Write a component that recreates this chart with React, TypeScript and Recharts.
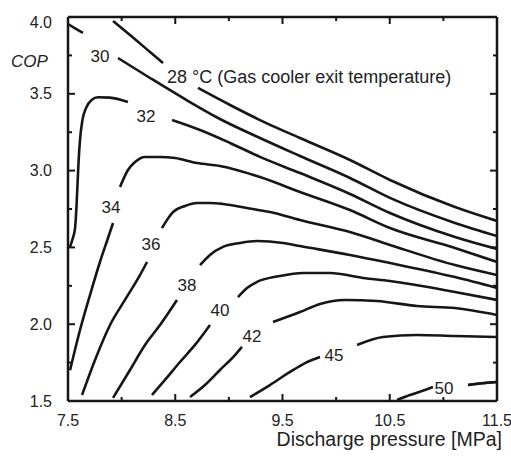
import React from "react";
import { LineChart, Line, XAxis, YAxis, ReferenceDot, Label } from "recharts";

type Pt = [number, number];

const xTicks = [7.5, 8, 8.5, 9, 9.5, 10, 10.5, 11, 11.5];
const xMajor = [7.5, 8.5, 9.5, 10.5, 11.5];
const yTicks = [1.5, 1.75, 2, 2.25, 2.5, 2.75, 3, 3.25, 3.5, 3.75, 4];
const yMajor = [1.5, 2, 2.5, 3, 3.5, 4];

// isotherms, each split where its label sits ([pressure MPa, COP])
const t28a: Pt[] = [[7.92, 3.974], [8.078, 3.883], [8.265, 3.772], [8.386, 3.701]];
const t28b: Pt[] = [[8.712, 3.538], [9.011, 3.427], [9.29, 3.329], [9.663, 3.212], [10.129, 3.069], [10.502, 2.939], [11.108, 2.763], [11.5, 2.672]];
const t30a: Pt[] = [[7.5, 3.954], [7.575, 3.922], [7.64, 3.896]];
const t30b: Pt[] = [[7.966, 3.733], [8.265, 3.603], [8.572, 3.473], [8.917, 3.336], [9.29, 3.212], [9.663, 3.095], [10.129, 2.952], [10.502, 2.822], [11.108, 2.659], [11.5, 2.574]];
const t32a: Pt[] = [[7.519, 2.503], [7.545, 2.56], [7.565, 2.62], [7.578, 2.75], [7.588, 2.9], [7.598, 3.05], [7.612, 3.2], [7.635, 3.33], [7.67, 3.41], [7.72, 3.46], [7.78, 3.478], [7.89, 3.475], [8.059, 3.447]];
const t32b: Pt[] = [[8.47, 3.329], [8.731, 3.264], [9.011, 3.18], [9.29, 3.089], [9.663, 2.984], [10.129, 2.848], [10.502, 2.724], [11.108, 2.568], [11.5, 2.49]];
const t34a: Pt[] = [[7.519, 1.7], [7.612, 1.962], [7.705, 2.19], [7.798, 2.405], [7.873, 2.561], [7.92, 2.659]];
const t34b: Pt[] = [[7.985, 2.893], [8.059, 3.004], [8.125, 3.056], [8.218, 3.089], [8.358, 3.089], [8.498, 3.082], [8.703, 3.049], [8.917, 3.03], [9.29, 2.958], [9.663, 2.861], [10.129, 2.743], [10.502, 2.626], [11.108, 2.496], [11.5, 2.405]];
const t36a: Pt[] = [[7.631, 1.539], [7.752, 1.767], [7.892, 1.995], [8.031, 2.158], [8.171, 2.32], [8.237, 2.405]];
const t36b: Pt[] = [[8.376, 2.626], [8.479, 2.73], [8.591, 2.77], [8.703, 2.789], [8.824, 2.789], [8.945, 2.783], [9.169, 2.757], [9.383, 2.73], [9.663, 2.678], [10.129, 2.6], [10.502, 2.516], [11.108, 2.385], [11.5, 2.32]];
const t38a: Pt[] = [[7.92, 1.52], [8.078, 1.702], [8.218, 1.865], [8.358, 1.995], [8.516, 2.158]];
const t38b: Pt[] = [[8.731, 2.385], [8.824, 2.451], [8.945, 2.503], [9.104, 2.529], [9.262, 2.542], [9.505, 2.529], [9.663, 2.509], [10.129, 2.451], [10.502, 2.398], [11.108, 2.307], [11.5, 2.236]];
const t40a: Pt[] = [[8.283, 1.539], [8.404, 1.637], [8.544, 1.754], [8.684, 1.865], [8.824, 1.995]];
const t40b: Pt[] = [[9.085, 2.177], [9.169, 2.236], [9.262, 2.275], [9.477, 2.314], [9.691, 2.333], [9.943, 2.333], [10.251, 2.301], [10.502, 2.281], [11.108, 2.21], [11.5, 2.158]];
const t42a: Pt[] = [[8.638, 1.526], [8.777, 1.604], [8.917, 1.702], [9.057, 1.799], [9.122, 1.852]];
const t42b: Pt[] = [[9.411, 2.014], [9.663, 2.079], [9.85, 2.132], [10.083, 2.158], [10.381, 2.151], [10.754, 2.118], [11.108, 2.105], [11.5, 2.06]];
const t45a: Pt[] = [[9.197, 1.526], [9.383, 1.604], [9.57, 1.689], [9.71, 1.747], [9.85, 1.786]];
const t45b: Pt[] = [[10.195, 1.865], [10.437, 1.917], [10.754, 1.93], [11.108, 1.923], [11.5, 1.917]];
const t50a: Pt[] = [[10.568, 1.507], [10.689, 1.539], [10.829, 1.572], [10.903, 1.591]];
const t50b: Pt[] = [[11.23, 1.604], [11.388, 1.617], [11.5, 1.624]];

const segments = [t28a, t28b, t30a, t30b, t32a, t32b, t34a, t34b, t36a, t36b, t38a, t38b, t40a, t40b, t42a, t42b, t45a, t45b, t50a, t50b];

const labelText = ["30", "32", "34", "36", "38", "40", "42", "45", "50"];
const labelAt: Pt[] = [[7.798, 3.746], [8.227, 3.355], [7.901, 2.763], [8.274, 2.522], [8.61, 2.255], [8.917, 2.092], [9.216, 1.923], [9.98, 1.8], [11.006, 1.585]];
const noteText = "28 °C (Gas cooler exit temperature)";
const noteAt: Pt = [8.423, 3.609];

const FONT = "'Liberation Sans', Arial, Helvetica, sans-serif";
const INK = "#161616";

function BottomTick(props: any) {
  const { x, y, payload } = props;
  const major = xMajor.includes(payload.value);
  return (
    <g>
      <line x1={x} x2={x} y1={y} y2={y - (major ? 7 : 4)} stroke={INK} strokeWidth={2} />
      {major && (
        <text x={x} y={y + 25} textAnchor="middle" fontSize={16} fill="#222" fontFamily={FONT}>
          {payload.value.toFixed(1)}
        </text>
      )}
    </g>
  );
}

function TopTick(props: any) {
  const { x, y, payload } = props;
  const major = xMajor.includes(payload.value);
  return <line x1={x} x2={x} y1={y} y2={y + (major ? 7 : 4)} stroke={INK} strokeWidth={2} />;
}

function LeftTick(props: any) {
  const { x, y, payload } = props;
  const major = yMajor.includes(payload.value);
  return (
    <g>
      <line x1={x} x2={x + (major ? 7 : 4)} y1={y} y2={y} stroke={INK} strokeWidth={2} />
      {major && (
        <text x={x - 16} y={y + (payload.value === 4 ? 5 : 0)} dy="0.35em" textAnchor="end" fontSize={16} fill="#222" fontFamily={FONT}>
          {payload.value.toFixed(1)}
        </text>
      )}
    </g>
  );
}

function RightTick(props: any) {
  const { x, y, payload } = props;
  const major = yMajor.includes(payload.value);
  return <line x1={x} x2={x - (major ? 7 : 4)} y1={y} y2={y} stroke={INK} strokeWidth={2} />;
}

const axisLine = { stroke: INK, strokeWidth: 2.5 };

export default function App() {
  return (
    <div style={{ position: "absolute", left: 0, top: 0, width: 511, height: 457, background: "#fff" }}>
      <LineChart width={511} height={457} margin={{ top: 16, right: 13, bottom: 0, left: 0 }}>
        <XAxis
          xAxisId="b"
          type="number"
          dataKey="x"
          domain={[7.5, 11.5]}
          ticks={xTicks}
          allowDataOverflow
          height={56}
          tickSize={0}
          tickMargin={0}
          tickLine={false}
          axisLine={axisLine}
          tick={<BottomTick />}
          interval={0}
        >
          <Label
            content={() => (
              <text x={502} y={446} textAnchor="end" fontSize={19.5} fill="#222" fontFamily={FONT}>
                Discharge pressure [MPa]
              </text>
            )}
          />
        </XAxis>
        <XAxis
          xAxisId="t"
          orientation="top"
          type="number"
          dataKey="x"
          domain={[7.5, 11.5]}
          ticks={xTicks}
          allowDataOverflow
          height={1}
          tickSize={0}
          tickMargin={0}
          tickLine={false}
          axisLine={axisLine}
          tick={<TopTick />}
          interval={0}
        />
        <YAxis
          yAxisId="l"
          type="number"
          domain={[1.5, 4]}
          ticks={yTicks}
          allowDataOverflow
          width={68}
          tickSize={0}
          tickMargin={0}
          tickLine={false}
          axisLine={axisLine}
          tick={<LeftTick />}
          interval={0}
        >
          <Label
            content={() => (
              <text x={11} y={67} fontSize={17} fontStyle="italic" fill="#222" fontFamily={FONT}>
                COP
              </text>
            )}
          />
        </YAxis>
        <YAxis
          yAxisId="r"
          orientation="right"
          type="number"
          domain={[1.5, 4]}
          ticks={yTicks}
          allowDataOverflow
          width={1}
          tickSize={0}
          tickMargin={0}
          tickLine={false}
          axisLine={axisLine}
          tick={<RightTick />}
          interval={0}
        />
        {segments.map((seg, i) => (
          <Line
            key={i}
            xAxisId="b"
            yAxisId="l"
            data={seg.map(([x, y]) => ({ x, y }))}
            dataKey="y"
            type="monotone"
            stroke={INK}
            strokeWidth={2.6}
            dot={false}
            activeDot={false}
            isAnimationActive={false}
          />
        ))}
        {/* the frame's top and right sides take their scales from the same last segment */}
        <Line
          xAxisId="t"
          yAxisId="r"
          data={t50b.map(([x, y]) => ({ x, y }))}
          dataKey="y"
          type="monotone"
          stroke={INK}
          strokeWidth={2.6}
          dot={false}
          activeDot={false}
          isAnimationActive={false}
        />
        {labelText.map((t, i) => (
          <ReferenceDot
            key={t}
            xAxisId="b"
            yAxisId="l"
            x={labelAt[i][0]}
            y={labelAt[i][1]}
            r={0}
            ifOverflow="visible"
            shape={(p: any) => (
              <text x={p.cx} y={p.cy} dy="0.35em" textAnchor="middle" fontSize={17} fill="#222" fontFamily={FONT}>
                {t}
              </text>
            )}
          />
        ))}
        <ReferenceDot
          xAxisId="b"
          yAxisId="l"
          x={noteAt[0]}
          y={noteAt[1]}
          r={0}
          ifOverflow="visible"
          shape={(p: any) => (
            <text x={p.cx} y={p.cy} dy="0.35em" textAnchor="start" fontSize={18} fill="#222" fontFamily={FONT}>
              {noteText}
            </text>
          )}
        />
      </LineChart>
    </div>
  );
}
